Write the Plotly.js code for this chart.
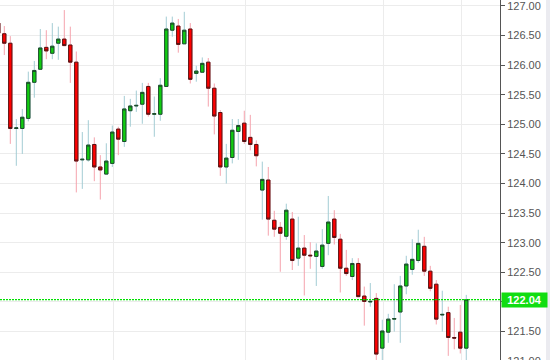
<!DOCTYPE html>
<html>
<head>
<meta charset="utf-8">
<script src="https://cdn.plot.ly/plotly-3.0.1.min.js"></script>
<style>html,body{margin:0;padding:0;background:#fff;overflow:hidden;}#chart{width:550px;height:370px;}</style>
</head>
<body>
<div id="chart"></div>
<script>
// OHLC values, oldest first (first candle is partly cut off at the left)
const opens  = [126.71,126.53,126.37,124.93,124.93,125.10,125.71,125.93,126.30,126.20,126.37,126.44,126.34,126.05,124.40,124.40,124.66,124.28,124.16,124.34,124.92,124.71,125.23,125.31,125.34,125.64,125.17,125.17,125.64,126.59,126.66,126.36,126.61,125.86,125.88,126.05,125.61,125.20,124.28,124.44,124.88,125.02,124.78,124.66,123.89,124.06,123.38,123.26,123.11,123.40,122.74,122.91,122.79,122.77,122.60,122.99,123.40,123.06,122.57,122.43,122.65,122.10,122.00,122.06,121.22,121.49,121.71,121.83,122.27,122.55,122.70,122.94,122.52,122.30,121.78,121.82,121.40,121.49,121.22];
const highs  = [126.75,126.66,126.49,125.09,125.26,125.89,126.07,126.61,126.59,126.71,126.65,126.93,126.65,126.23,124.87,125.07,124.78,124.48,124.68,124.98,124.96,125.48,125.43,125.57,125.70,125.70,125.47,125.78,126.82,126.82,126.78,126.90,126.71,125.99,126.13,126.12,125.69,125.24,124.67,125.09,125.09,125.23,125.16,124.73,124.37,124.28,123.54,123.35,123.66,123.52,123.44,123.13,123.01,122.99,123.23,123.79,123.55,123.15,122.88,122.74,122.74,122.26,122.32,122.15,121.70,121.80,122.30,122.44,122.78,123.06,123.22,123.10,122.61,122.37,122.19,121.92,121.73,121.95,122.12];
const lows   = [126.50,126.17,124.67,124.30,124.50,125.05,125.45,125.92,126.10,126.10,126.09,126.32,125.70,123.85,123.91,124.37,124.04,123.73,124.15,124.28,124.48,124.62,124.96,125.21,125.01,125.13,124.79,125.06,125.64,126.48,126.21,126.36,125.69,125.72,125.88,125.30,124.83,124.13,124.00,124.34,124.40,124.67,124.56,124.29,123.39,123.12,123.10,122.51,123.05,122.54,122.61,122.11,122.56,122.27,122.56,122.79,122.97,122.16,122.44,122.37,122.08,121.60,121.92,121.02,121.00,121.31,121.50,121.31,122.13,122.46,122.66,122.44,122.18,121.62,121.50,121.09,121.20,121.13,121.00];
const closes = [126.54,126.37,124.93,124.94,125.12,125.71,125.91,126.29,126.24,126.32,126.44,126.33,126.05,124.38,124.41,124.65,124.28,124.23,124.38,124.87,124.75,125.26,125.31,125.32,125.54,125.17,125.18,125.66,126.61,126.71,126.35,126.59,125.76,125.90,126.03,125.61,125.14,124.28,124.43,124.90,124.98,124.71,124.66,124.47,124.07,123.40,123.23,123.16,123.55,122.70,122.91,122.79,122.78,122.86,122.96,123.35,123.09,122.57,122.48,122.65,122.09,122.01,122.01,121.12,121.51,121.71,121.72,122.27,122.64,122.72,122.99,122.52,122.23,121.71,121.79,121.40,121.39,121.22,122.04];
const lastPrice = 122.04;
const yTicks = [121.0,121.5,122.0,122.5,123.0,123.5,124.0,124.5,125.0,125.5,126.0,126.5,127.0];

const idx = opens.map((_, i) => i);
const bodyTop = opens.map((o, i) => Math.max(o, closes[i]));
const bodyBot = opens.map((o, i) => Math.min(o, closes[i]));

const FONT = 'Liberation Sans, Arial, sans-serif';

const wicks = {
  type: 'candlestick', x: idx, open: opens, high: highs, low: lows, close: closes,
  increasing: {line: {color: '#a3ccd4', width: 1}, fillcolor: 'rgba(0,0,0,0)'},
  decreasing: {line: {color: '#f5a3ad', width: 1}, fillcolor: 'rgba(0,0,0,0)'},
  hoverinfo: 'skip', showlegend: false
};
const bodies = {
  type: 'candlestick', x: idx, open: opens, high: bodyTop, low: bodyBot, close: closes,
  increasing: {line: {color: '#1d4a2a', width: 1}, fillcolor: '#10cc10'},
  decreasing: {line: {color: '#531414', width: 1}, fillcolor: '#ff0000'},
  showlegend: false
};

const layout = {
  width: 550, height: 370,
  margin: {l: 0, r: 50, t: 0, b: 0},
  paper_bgcolor: '#ffffff', plot_bgcolor: '#ffffff',
  showlegend: false,
  boxgap: 0.2,
  xaxis: {
    range: [0.283, 83.62], rangeslider: {visible: false},
    showticklabels: false, ticks: '', zeroline: false, showline: false,
    tickmode: 'array', tickvals: [19.17, 41.12, 64.17, 77.12],
    showgrid: true, gridcolor: '#ececec', gridwidth: 1
  },
  yaxis: {
    side: 'right', range: [120.851, 127.10],
    tickmode: 'array', tickvals: yTicks,
    ticktext: yTicks.map(v => Math.abs(v - lastPrice) < 0.1 ? '' : v.toFixed(2)),
    ticklabeloverflow: 'allow',
    showgrid: true, gridcolor: '#ececec', gridwidth: 1,
    showline: true, linecolor: '#555555', linewidth: 1,
    ticks: 'outside', ticklen: 4, tickcolor: '#555555',
    tickfont: {family: FONT, size: 11, color: '#555555'},
    zeroline: false
  },
  shapes: [
    {type: 'line', xref: 'paper', yref: 'y', x0: 0, x1: 1, y0: lastPrice, y1: lastPrice,
     line: {color: '#00e000', width: 1.2, dash: '2px,1px'}},
    {type: 'rect', xref: 'paper', yref: 'paper', x0: 1.092, x1: 1.1, y0: 0, y1: 1,
     line: {width: 0}, fillcolor: '#ebebf0', layer: 'below'}
  ],
  annotations: [
    {xref: 'paper', yref: 'y', x: 1, y: lastPrice, xanchor: 'left', yanchor: 'middle',
     xshift: 1, text: '<b>' + lastPrice.toFixed(2) + '</b>', showarrow: false,
     bgcolor: '#11dd11', width: 45, height: 14, borderpad: 0, align: 'center',
     font: {family: FONT, size: 11, color: '#ffffff'}}
  ]
};

Plotly.newPlot('chart', [wicks, bodies], layout, {displayModeBar: false, staticPlot: true});
</script>
</body>
</html>
